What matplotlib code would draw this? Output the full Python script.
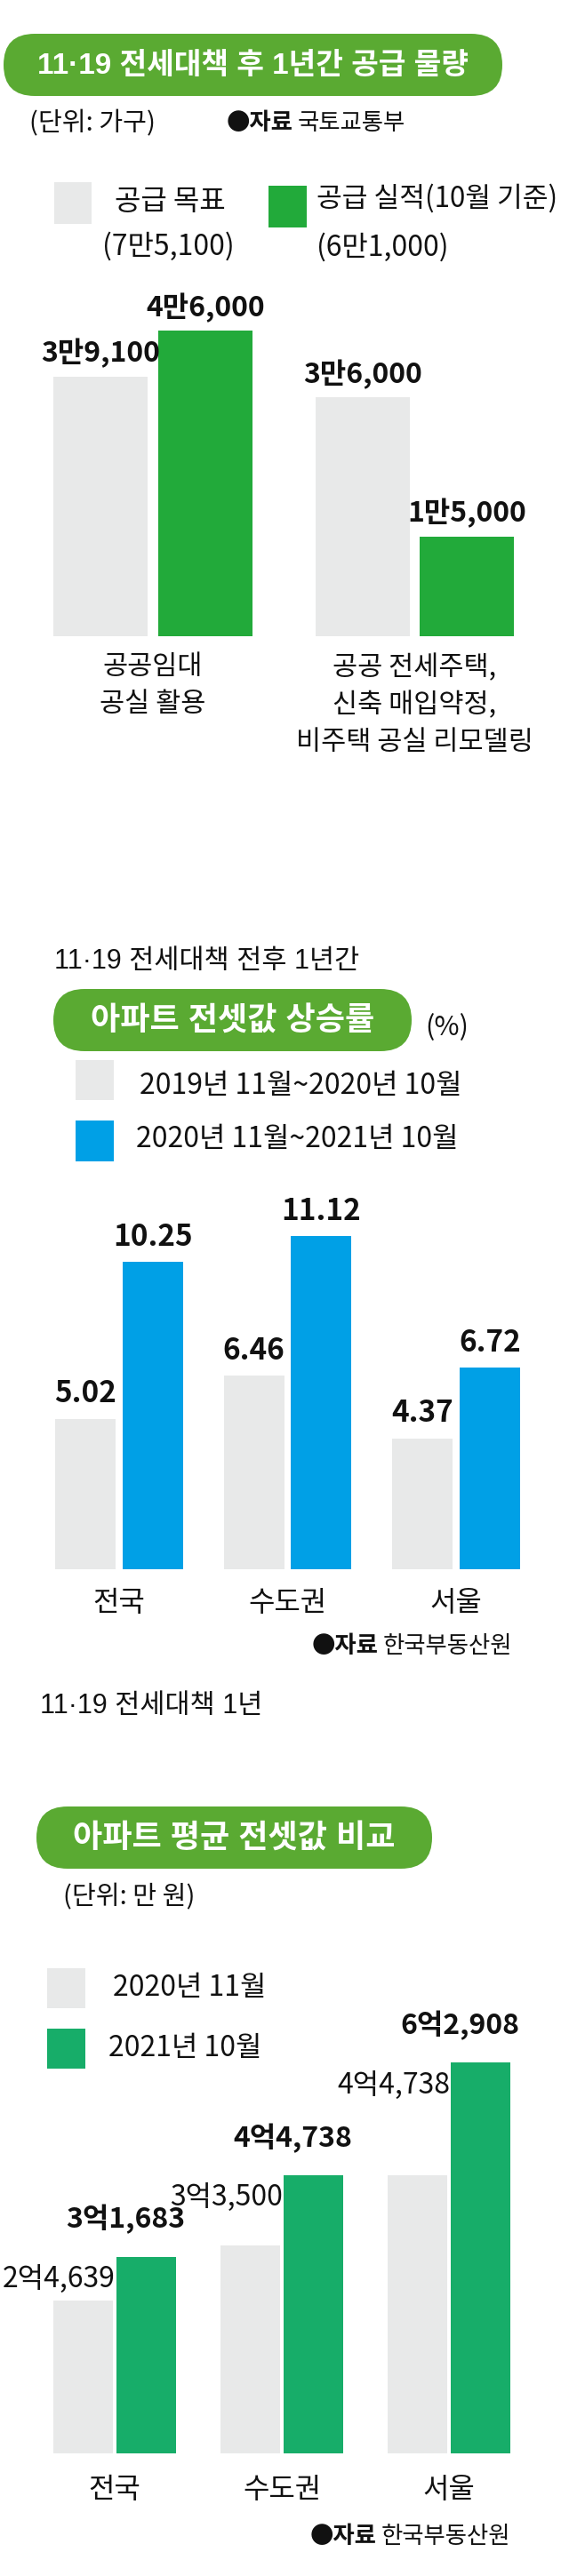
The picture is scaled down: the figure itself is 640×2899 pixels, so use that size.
import matplotlib
matplotlib.use('Agg')
import matplotlib.pyplot as plt
from matplotlib.patches import FancyBboxPatch, Rectangle
import numpy as np

plt.rcParams['font.family'] = ['Noto Sans CJK KR', 'DejaVu Sans']
MIXED = ['Liberation Sans', 'Noto Sans CJK KR']  # keeps the middle dot narrow

# ---- data ----
supply_cats = ['공공임대\n공실 활용', '공공 전세주택,\n신축 매입약정,\n비주택 공실 리모델링']
supply_goal = [39100, 36000]
supply_actual = [46000, 15000]
supply_legend = ['공급 목표', '공급 실적(10월 기준)']
supply_totals = ['(7만5,100)', '(6만1,000)']

rise_cats = ['전국', '수도권', '서울']
rise_prev = [5.02, 6.46, 4.37]
rise_curr = [10.25, 11.12, 6.72]
rise_legend = ['2019년 11월~2020년 10월', '2020년 11월~2021년 10월']

price_cats = ['전국', '수도권', '서울']
price_2020 = [24639, 33500, 44738]
price_2021 = [31683, 44738, 62908]
price_legend = ['2020년 11월', '2021년 10월']

PILL = '#5aaa32'
GRAY = '#e8e9e9'
GREEN1 = '#22aa3a'
BLUE = '#00a0e6'
GREEN3 = '#17ad69'
INK = '#111111'

W, H = 640, 2899
PT = 72 / 100  # points per pixel


def man(v):
    return f'{v // 10000}만{v % 10000:,}'


def eok(v):
    return f'{v // 10000}억{v % 10000:,}'


fig = plt.figure(figsize=(W / 100, H / 100), dpi=100)
canvas = fig.add_axes([0, 0, 1, 1])
canvas.set_xlim(0, W)
canvas.set_ylim(H, 0)
canvas.axis('off')


def px_axes(x0, y0, x1, y1):
    ax = fig.add_axes([x0 / W, 1 - y1 / H, (x1 - x0) / W, (y1 - y0) / H])
    ax.patch.set_alpha(0)
    for s in ax.spines.values():
        s.set_visible(False)
    ax.set_yticks([])
    return ax


def pill(x0, y0, x1, y1, text, size):
    h = y1 - y0
    canvas.add_patch(FancyBboxPatch((x0, y0), x1 - x0, h,
                                    boxstyle=f'round,pad=0,rounding_size={h / 2}',
                                    fc=PILL, ec='none'))
    canvas.text((x0 + x1) / 2, (y0 + y1) / 2 + 1, text, color='white', fontsize=size,
                fontweight='bold', ha='center', va='center', family=MIXED)


def txt(x, y, s, size=22, ha='left', weight='normal', family=None):
    t = canvas.text(x, y, s, fontsize=size, ha=ha, va='center', color=INK, fontweight=weight)
    if family:
        t.set_family(family)


def source(x, y, s):
    txt(x, y, '●자료', 19, weight='bold')
    txt(x + 80, y, s, 19)


# ================= section 1 =================
pill(4, 38, 565, 108, '11·19 전세대책 후 1년간 공급 물량', 24)
txt(33, 139, '(단위: 가구)', 21)
source(255, 139, '국토교통부')

canvas.add_patch(Rectangle((61, 205), 42, 47, fc=GRAY, ec='none'))
txt(191, 227, supply_legend[0], 23, ha='center')
txt(189, 277, supply_totals[0], 23, ha='center')
canvas.add_patch(Rectangle((302, 209), 43, 47, fc=GREEN1, ec='none'))
txt(356, 223, supply_legend[1], 22.5)
txt(356, 278, supply_totals[1], 23)

ax1 = px_axes(0, 330, 640, 716)
x = np.arange(len(supply_cats))
w1, o1 = 0.36, 0.2
ax1.bar(x - o1, supply_goal, w1, color=GRAY, linewidth=0)
ax1.bar(x + o1, supply_actual, w1, color=GREEN1, linewidth=0)
ax1.set_xlim(-0.584, 1.589)
ax1.set_ylim(0, 51673)
for xs, vals in ((x - o1, supply_goal), (x + o1, supply_actual)):
    for xi, v in zip(xs, vals):
        ax1.annotate(man(v), (xi, v), xytext=(0, 26 * PT), textcoords='offset points',
                     ha='center', va='center', fontsize=23, fontweight='bold',
                     color=INK, annotation_clip=False)
ax1.set_xticks(x, supply_cats)
ax1.tick_params(axis='x', length=0, pad=14, labelsize=22, labelcolor=INK)
for lab in ax1.get_xticklabels():
    lab.set_linespacing(1.45)

# ================= section 2 =================
txt(61, 1082, '11·19 전세대책 전후 1년간', 22, family=MIXED)
pill(60, 1113, 463, 1183, '아파트 전셋값 상승률', 26)
txt(478, 1157, '(%)', 22)
canvas.add_patch(Rectangle((85, 1193), 43, 45, fc=GRAY, ec='none'))
txt(157, 1222, rise_legend[0], 23)
canvas.add_patch(Rectangle((85, 1261), 43, 46, fc=BLUE, ec='none'))
txt(153, 1282, rise_legend[1], 23)

ax2 = px_axes(0, 1330, 640, 1766)
x = np.arange(len(rise_cats))
w2, o2 = 0.359, 0.2
ax2.bar(x - o2, rise_prev, w2, color=GRAY, linewidth=0)
ax2.bar(x + o2, rise_curr, w2, color=BLUE, linewidth=0)
ax2.set_xlim(-0.707, 2.670)
ax2.set_ylim(0, 12.93)
for xs, vals in ((x - o2, rise_prev), (x + o2, rise_curr)):
    for xi, v in zip(xs, vals):
        ax2.annotate(f'{v:.2f}', (xi, v), xytext=(0, 28 * PT), textcoords='offset points',
                     ha='center', va='center', fontsize=24, fontweight='bold',
                     color=INK, annotation_clip=False)
ax2.set_xticks(x, rise_cats)
ax2.tick_params(axis='x', length=0, pad=16, labelsize=23, labelcolor=INK)
source(351, 1852, '한국부동산원')

# ================= section 3 =================
txt(45, 1920, '11·19 전세대책 1년', 22, family=MIXED)
pill(41, 2033, 486, 2103, '아파트 평균 전셋값 비교', 26)
txt(71, 2135, '(단위: 만 원)', 21)
canvas.add_patch(Rectangle((53, 2215), 43, 45, fc=GRAY, ec='none'))
txt(127, 2237, price_legend[0], 23)
canvas.add_patch(Rectangle((53, 2283), 43, 45, fc=GREEN3, ec='none'))
txt(122, 2305, price_legend[1], 23)

ax3 = px_axes(0, 2300, 640, 2761)
x = np.arange(len(price_cats))
w3, o3 = 0.359, 0.19
ax3.bar(x - o3, price_2020, w3, color=GRAY, linewidth=0)
ax3.bar(x + o3, price_2021, w3, color=GREEN3, linewidth=0)
ax3.set_xlim(-0.686, 2.718)
ax3.set_ylim(0, 65970)
for xi, v0, v1 in zip(x, price_2020, price_2021):
    # previous-year value sits left of the new bar, bold new value above it
    ax3.annotate(eok(v0), (xi - o3 + w3 / 2, v1), xytext=(3 * PT, -25 * PT),
                 textcoords='offset points', ha='right', va='center', fontsize=23,
                 color=INK, annotation_clip=False)
    ax3.annotate(eok(v1), (xi + o3 + w3 / 2, v1), xytext=(10 * PT, 42 * PT),
                 textcoords='offset points', ha='right', va='center', fontsize=23,
                 fontweight='bold', color=INK, annotation_clip=False)
ax3.set_xticks(x, price_cats)
ax3.tick_params(axis='x', length=0, pad=18, labelsize=23, labelcolor=INK)
source(349, 2855, '한국부동산원')

fig.savefig('out.png', dpi=100, facecolor='white')
